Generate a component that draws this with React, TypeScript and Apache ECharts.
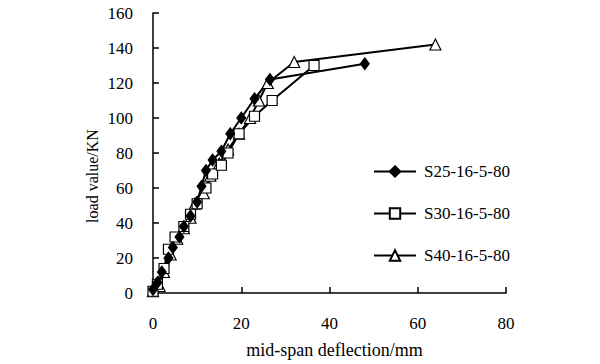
import React, { useEffect, useRef } from "react";
import * as echarts from "echarts";

const xTicks = [0, 20, 40, 60, 80];
const yTicks = [0, 20, 40, 60, 80, 100, 120, 140, 160];

const s25Name = "S25-16-5-80";
const s30Name = "S30-16-5-80";
const s40Name = "S40-16-5-80";
const xTitle = "mid-span deflection/mm";
const yTitle = "load value/KN";

const s25Data: [number, number][] = [
  [0, 2], [1, 6], [2, 12], [3.5, 20], [4.5, 26], [6, 32], [7, 38], [8.5, 44],
  [10, 52], [11, 61], [12, 70], [13.5, 76], [15.5, 81], [17.5, 91], [20, 100],
  [23, 111], [26.5, 122], [48, 131],
];
const s30Data: [number, number][] = [
  [0, 1], [1, 5], [2.5, 14], [3.5, 25], [5, 32], [7, 38], [8.5, 45], [10, 51],
  [12, 60], [13.5, 68], [15.5, 73], [17, 80], [19.5, 91], [23, 101], [27, 110],
  [36.5, 130],
];
const s40Data: [number, number][] = [
  [0, 1], [1.5, 4], [2.5, 12], [4, 22], [5.5, 31], [7, 37], [8.5, 43], [9.5, 51],
  [11.5, 57], [13, 67], [15, 74], [17, 82], [19.5, 91], [22, 100], [24, 110],
  [26, 120], [32, 132], [64, 142],
];

const FONT = "Liberation Serif";

export default function App() {
  const ref = useRef<HTMLDivElement>(null);
  useEffect(() => {
    if (!ref.current) return;
    const chart = echarts.init(ref.current, undefined, { renderer: "svg" });
    const lineBase = {
      type: "line" as const,
      lineStyle: { color: "#000", width: 2 },
      emphasis: { disabled: true },
      z: 2,
    };
    chart.setOption({
      animation: false,
      backgroundColor: "#fff",
      grid: { left: 153, right: 94, top: 13, bottom: 70 },
      legend: {
        orient: "vertical",
        left: 368,
        top: 158,
        itemWidth: 42,
        itemHeight: 13,
        itemGap: 25,
        textStyle: { fontFamily: FONT, fontSize: 17, color: "#000", lineHeight: 17, padding: [0, 0, 0, 3] },
        data: [s25Name, s30Name, s40Name],
      },
      graphic: [
        {
          type: "text",
          x: 92,
          y: 176,
          rotation: Math.PI / 2,
          style: {
            text: yTitle,
            fontFamily: FONT,
            fontSize: 16,
            fill: "#000",
            align: "center",
            verticalAlign: "middle",
          },
        },
      ],
      xAxis: {
        type: "value",
        min: xTicks[0],
        max: xTicks[xTicks.length - 1],
        interval: 20,
        name: xTitle,
        nameLocation: "middle",
        nameGap: 48,
        nameTextStyle: { fontFamily: FONT, fontSize: 18, color: "#000", padding: [0, 0, 0, 10] },
        axisLine: { lineStyle: { color: "#000", width: 1.5 } },
        axisTick: { inside: true, length: 6, lineStyle: { color: "#000", width: 1.5 } },
        axisLabel: { fontFamily: FONT, fontSize: 17, color: "#000", margin: 22 },
        splitLine: { show: false },
      },
      yAxis: {
        type: "value",
        min: yTicks[0],
        max: yTicks[yTicks.length - 1],
        interval: 20,
        axisLine: { show: true, lineStyle: { color: "#000", width: 1.5 } },
        axisTick: { show: true, inside: true, length: 6, lineStyle: { color: "#000", width: 1.5 } },
        axisLabel: { fontFamily: FONT, fontSize: 17, color: "#000", margin: 20 },
        splitLine: { show: false },
      },
      series: [
        {
          ...lineBase,
          name: s40Name,
          data: s40Data,
          symbol: "triangle",
          symbolSize: 11,
          itemStyle: { color: "#fff", borderColor: "#000", borderWidth: 1.2 },
        },
        {
          ...lineBase,
          name: s30Name,
          data: s30Data,
          symbol: "rect",
          symbolSize: 10,
          itemStyle: { color: "#fff", borderColor: "#000", borderWidth: 1.2 },
        },
        {
          ...lineBase,
          name: s25Name,
          data: s25Data,
          symbol: "diamond",
          symbolSize: [9, 12],
          itemStyle: { color: "#000", borderColor: "#000", borderWidth: 1 },
        },
      ],
    });
    return () => chart.dispose();
  }, []);
  return <div ref={ref} style={{ width: 600, height: 364, position: "absolute", left: 0, top: 0 }} />;
}
